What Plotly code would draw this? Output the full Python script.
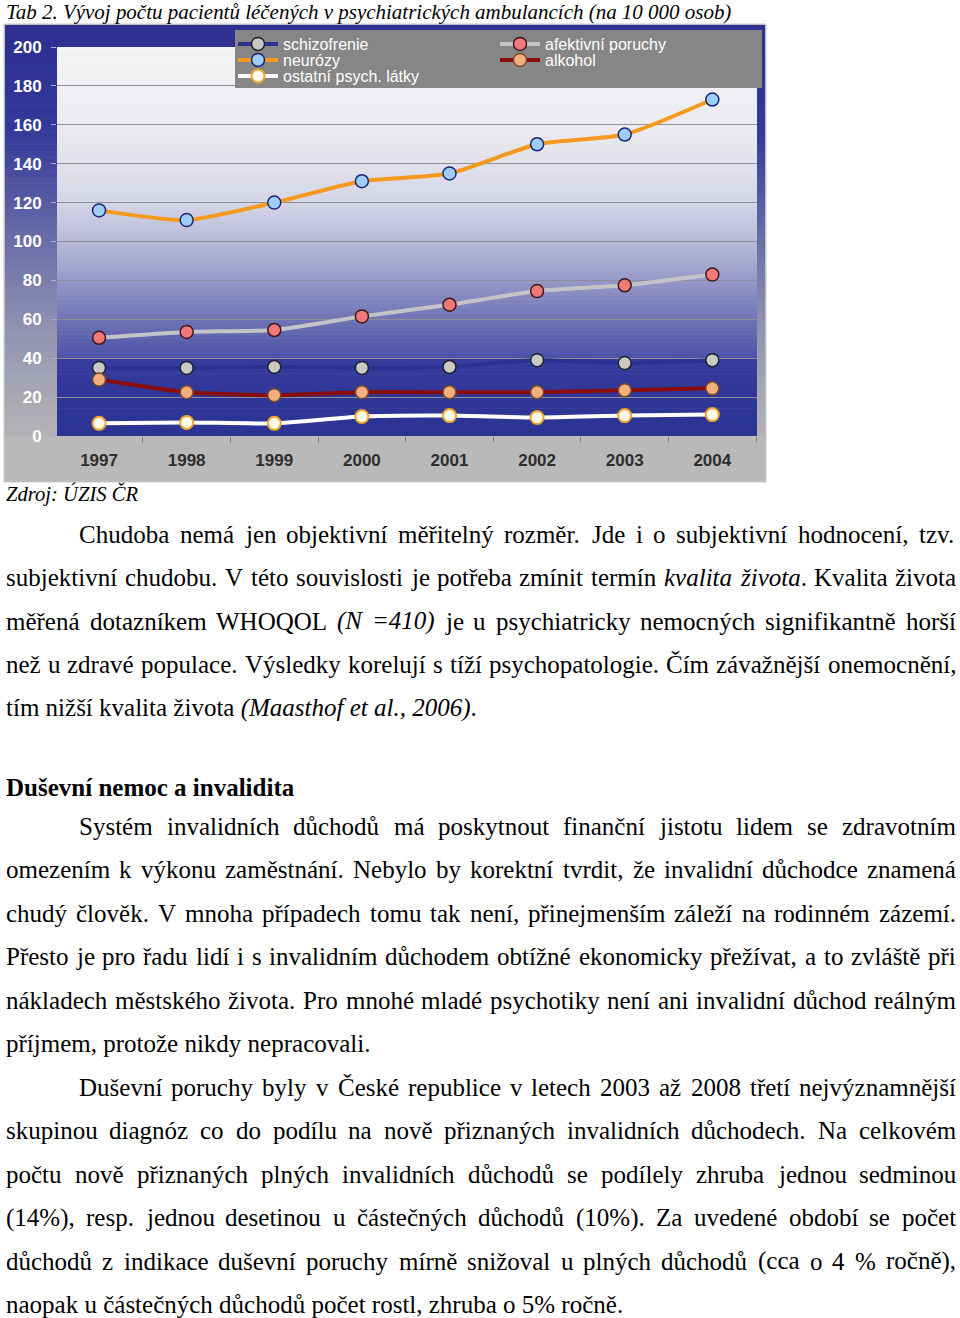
import unicodedata
import plotly.graph_objects as go

# ---------------- data ----------------
years = [1997, 1998, 1999, 2000, 2001, 2002, 2003, 2004]
schizofrenie = [35, 35, 35.5, 35, 35.5, 39, 37.5, 39]
afektivni = [50.5, 53.5, 54.5, 61.5, 67.5, 74.5, 77.5, 83]
neurozy = [116, 111, 120, 131, 135, 150, 155, 173]
alkohol = [29, 22.5, 21, 22.5, 22.5, 22.5, 23.5, 24.5]
ostatni = [6.5, 7, 6.5, 10, 10.5, 9.5, 10.5, 11]
series_names = ["schizofrenie", "afektivní poruchy", "neurózy", "alkohol", "ostatní psych. látky"]
y_ticks = list(range(0, 201, 20))

title_text = "Tab 2. Vývoj počtu pacientů léčených v psychiatrických ambulancích (na 10 000 osob)"
source_text = "Zdroj: ÚZIS ČR"
heading_text = "Duševní nemoc a invalidita"
paragraph1 = [
    "Chudoba nemá jen objektivní měřitelný rozměr. Jde i o subjektivní hodnocení, tzv.",
    "subjektivní chudobu. V této souvislosti je potřeba zmínit termín <i>kvalita života</i>. Kvalita života",
    "měřená dotazníkem WHOQOL <i>(N =410)</i> je u psychiatricky nemocných signifikantně horší",
    "než u zdravé populace. Výsledky korelují s tíží psychopatologie. Čím závažnější onemocnění,",
    "tím nižší kvalita života <i>(Maasthof et al., 2006)</i>.",
]
paragraph2 = [
    "Systém invalidních důchodů má poskytnout finanční jistotu lidem se zdravotním",
    "omezením k výkonu zaměstnání. Nebylo by korektní tvrdit, že invalidní důchodce znamená",
    "chudý člověk. V mnoha případech tomu tak není, přinejmenším záleží na rodinném zázemí.",
    "Přesto je pro řadu lidí i s invalidním důchodem obtížné ekonomicky přežívat, a to zvláště při",
    "nákladech městského života. Pro mnohé mladé psychotiky není ani invalidní důchod reálným",
    "příjmem, protože nikdy nepracovali.",
]
paragraph3 = [
    "Duševní poruchy byly v České republice v letech 2003 až 2008 třetí nejvýznamnější",
    "skupinou diagnóz co do podílu na nově přiznaných invalidních důchodech. Na celkovém",
    "počtu nově přiznaných plných invalidních důchodů se podílely zhruba jednou sedminou",
    "(14%), resp. jednou desetinou u částečných důchodů (10%). Za uvedené období se počet",
    "důchodů z indikace duševní poruchy mírně snižoval u plných důchodů (cca o 4 % ročně),",
    "naopak u částečných důchodů počet rostl, zhruba o 5% ročně.",
]

# ---------------- page geometry helpers ----------------
W, H = 960, 1318
def px(x):
    return x / W
def py(y):
    return 1 - y / H

def hexmix(c1, c2, t):
    a = [int(c1[i:i + 2], 16) for i in (1, 3, 5)]
    b = [int(c2[i:i + 2], 16) for i in (1, 3, 5)]
    return "#%02x%02x%02x" % tuple(round(a[k] + (b[k] - a[k]) * t) for k in range(3))

def grad(stops, v):
    for (v0, c0), (v1, c1) in zip(stops, stops[1:]):
        if v0 <= v <= v1:
            return c0 if v1 == v0 else hexmix(c0, c1, (v - v0) / (v1 - v0))
    return stops[-1][1]

# Times metrics (per 1000 em) used to justify the body text
ROMAN = dict(zip("abcdefghijklmnopqrstuvwxyz",
                 [444, 500, 444, 500, 444, 333, 500, 500, 278, 278, 500, 278, 778, 500, 500, 500, 500, 333, 389, 278, 500, 500, 722, 500, 500, 444]))
ROMAN.update(dict(zip("ABCDEFGHIJKLMNOPQRSTUVWXYZ",
                      [722, 667, 667, 722, 611, 556, 722, 722, 333, 389, 722, 611, 889, 722, 722, 556, 722, 667, 556, 611, 722, 722, 944, 722, 722, 611])))
ROMAN.update({" ": 250, ".": 250, ",": 250, "(": 333, ")": 333, "%": 833, "=": 564, ":": 278, "-": 333})
ROMAN.update({d: 500 for d in "0123456789"})
ITAL = dict(zip("abcdefghijklmnopqrstuvwxyz",
                [500, 500, 444, 500, 444, 278, 500, 500, 278, 278, 444, 278, 722, 500, 500, 500, 500, 389, 389, 278, 500, 444, 667, 444, 444, 389]))
ITAL.update(dict(zip("ABCDEFGHIJKLMNOPQRSTUVWXYZ",
                     [611, 611, 667, 722, 611, 611, 722, 722, 333, 444, 667, 556, 833, 667, 722, 611, 722, 611, 500, 556, 722, 611, 833, 611, 556, 556])))
ITAL.update({" ": 250, ".": 250, ",": 250, "(": 333, ")": 333, "%": 833, "=": 675, ":": 333, "-": 333})
ITAL.update({d: 500 for d in "0123456789"})

def cw(ch, italic):
    base = unicodedata.normalize("NFD", ch)[0]
    tab = ITAL if italic else ROMAN
    return tab.get(base, 500)

def parse_words(line):
    words, ital = [], False
    for raw in line.split(" "):
        segs, buf, i = [], "", 0
        while i < len(raw):
            if raw.startswith("<i>", i):
                if buf:
                    segs.append((buf, ital)); buf = ""
                ital = True; i += 3
            elif raw.startswith("</i>", i):
                if buf:
                    segs.append((buf, ital)); buf = ""
                ital = False; i += 4
            else:
                buf += raw[i]; i += 1
        if buf:
            segs.append((buf, ital))
        words.append(segs)
    return words

def word_width(segs, size):
    return sum(cw(c, it) for t, it in segs for c in t) * size / 1000.0

def word_html(segs):
    return "".join("<i>%s</i>" % t if it else t for t, it in segs)

BODY_FONT = "Liberation Serif, Times New Roman, serif"
BODY_SIZE = 25
annotations = []

def add_line(text, x0, yc, justify, right=955):
    words = parse_words(text)
    if not justify:
        annotations.append(dict(text=text, x=px(x0), y=py(yc), xref="paper", yref="paper",
                                xanchor="left", yanchor="middle", showarrow=False, borderpad=0,
                                font=dict(family=BODY_FONT, size=BODY_SIZE, color="#000")))
        return
    widths = [word_width(w, BODY_SIZE) for w in words]
    gap = (right - x0 - sum(widths)) / (len(words) - 1)
    x = x0
    for w, wd in zip(words, widths):
        annotations.append(dict(text=word_html(w), x=px(x), y=py(yc), xref="paper", yref="paper",
                                xanchor="left", yanchor="middle", showarrow=False, borderpad=0,
                                font=dict(family=BODY_FONT, size=BODY_SIZE, color="#000")))
        x += wd + gap

LINE = 43.5
def add_paragraph(lines, y0):
    for i, ln in enumerate(lines):
        add_line(ln, 78 if i == 0 else 5, y0 + i * LINE, justify=(i < len(lines) - 1))

add_paragraph(paragraph1, 534)
annotations.append(dict(text="<b>%s</b>" % heading_text, x=px(5), y=py(787), xref="paper", yref="paper",
                        xanchor="left", yanchor="middle", showarrow=False, borderpad=0,
                        font=dict(family=BODY_FONT, size=BODY_SIZE, color="#000")))
add_paragraph(paragraph2, 826)
add_paragraph(paragraph3, 1087)

title_units = sum(cw(c, True) for c in title_text)
title_size = 728 / title_units * 1000
annotations.append(dict(text="<i>%s</i>" % title_text, x=px(5), y=py(12), xref="paper", yref="paper",
                        xanchor="left", yanchor="middle", showarrow=False, borderpad=0,
                        font=dict(family=BODY_FONT, size=title_size, color="#000")))
src_units = sum(cw(c, True) for c in source_text)
annotations.append(dict(text="<i>%s</i>" % source_text, x=px(5), y=py(494), xref="paper", yref="paper",
                        xanchor="left", yanchor="middle", showarrow=False, borderpad=0,
                        font=dict(family=BODY_FONT, size=133 / src_units * 1000, color="#000")))

# ---------------- chart frame decorations ----------------
shapes = []
shapes.append(dict(type="rect", xref="paper", yref="paper", x0=px(4), x1=px(766), y0=py(482), y1=py(24),
                   fillcolor="#b9b9b9", line=dict(color="#c8c8c8", width=1), layer="below"))
shapes.append(dict(type="rect", xref="paper", yref="paper", x0=px(5), x1=px(765), y0=py(48), y1=py(25),
                   fillcolor="#2e3192", line=dict(width=0), layer="below"))
gutter_stops = [(47, "#2e3192"), (130, "#33389a"), (240, "#6a6ea8"), (330, "#9193b2"), (400, "#a9a9b4"), (436, "#b3b3b6")]
n = 60
for k in range(n):
    y0 = 47 + (436 - 47) * k / n
    y1 = 47 + (436 - 47) * (k + 1) / n
    col = grad(gutter_stops, (y0 + y1) / 2)
    for xa, xb in ((5, 57), (756, 765)):
        shapes.append(dict(type="rect", xref="paper", yref="paper", x0=px(xa), x1=px(xb), y0=py(y1 + 0.5), y1=py(y0),
                           fillcolor=col, line=dict(width=0), layer="below"))
plot_stops = [(0, "#2b3393"), (20, "#2f3697"), (39.5, "#363d9d"), (40.5, "#4d53a8"), (50, "#5d62ae"),
              (60, "#7074b6"), (70, "#8286be"), (80, "#9699c8"), (90, "#a8aacf"), (100, "#b8bad8"),
              (110, "#c7c8df"), (120, "#d4d5e6"), (140, "#e2e2eb"), (160, "#ebebf0"), (180, "#f0f0f3"), (200, "#f4f4f6")]
m = 100
for k in range(m):
    v0 = 200 * k / m
    v1 = 200 * (k + 1) / m
    shapes.append(dict(type="rect", xref="x domain", yref="y", x0=0, x1=1, y0=v0, y1=v1 + 0.3,
                       fillcolor=grad(plot_stops, (v0 + v1) / 2), line=dict(width=0), layer="below"))
# grey legend panel
shapes.append(dict(type="rect", xref="paper", yref="paper", x0=px(235), x1=px(762), y0=py(88), y1=py(30),
                   fillcolor="#868686", line=dict(width=0), layer="above"))

# ---------------- traces ----------------
fig = go.Figure()
styles = [
    (schizofrenie, dict(color="#2b3190", width=4), dict(color="#c9cac4", line=dict(color="#1e1e2e", width=1.5))),
    (afektivni, dict(color="#c4c4c8", width=4), dict(color="#f07878", line=dict(color="#3a1a1a", width=1.5))),
    (neurozy, dict(color="#f59a1e", width=4), dict(color="#9fcdfb", line=dict(color="#1a2470", width=1.5))),
    (alkohol, dict(color="#8a0c0c", width=4), dict(color="#f3b07e", line=dict(color="#7a4a2a", width=1.5))),
    (ostatni, dict(color="#ffffff", width=4), dict(color="#fffbea", line=dict(color="#f0a52a", width=2))),
]
legend_ids = ["legend", "legend2", "legend3", "legend4", "legend5"]
for name, (vals, ln, mk), lg in zip(series_names, styles, legend_ids):
    fig.add_trace(go.Scatter(x=years, y=vals, name=name, mode="lines+markers", legend=lg,
                             line=dict(shape="spline", smoothing=0.6, **ln),
                             marker=dict(symbol="circle", size=13, **mk)))

# legend grid: two columns, three rows (one entry per legend box)
LEG_FONT = dict(family="Liberation Sans, Arial", size=16, color="#ffffff")
legend_cells = [(233, 44), (495, 44), (233, 60), (495, 60), (233, 76)]
legend_layout = {}
for lg, (lx, ly) in zip(legend_ids, legend_cells):
    legend_layout[lg] = dict(orientation="v", x=px(lx), y=py(ly), xanchor="left", yanchor="middle",
                             bgcolor="rgba(0,0,0,0)", borderwidth=0, font=LEG_FONT, itemwidth=40,
                             tracegroupgap=0)

fig.update_layout(
    template="none",
    width=W, height=H, margin=dict(l=0, r=0, t=0, b=0, autoexpand=False),
    paper_bgcolor="#ffffff", plot_bgcolor="rgba(0,0,0,0)",
    showlegend=True,
    xaxis=dict(domain=[px(57), px(757)], range=[1996.52, 2004.51], tickmode="array", automargin=False,
               tickvals=years, ticktext=[str(y) for y in years], ticks="", showgrid=False, zeroline=False,
               showline=False, ticklabelstandoff=12,
               tickfont=dict(family="Liberation Sans, Arial", size=17, color="#2e2e2e", weight="bold"),
               minor=dict(tick0=1996.5, dtick=1, ticks="outside", ticklen=5, tickcolor="#7a7a7a", showgrid=False)),
    yaxis=dict(domain=[py(436), py(47)], range=[0, 200], tickmode="array", tickvals=y_ticks, automargin=False,
               ticks="outside", ticklen=5, tickcolor="#a9acd6", showgrid=True, gridcolor="#8e8e96",
               gridwidth=1, zeroline=False, showline=False, ticklabelstandoff=6,
               tickfont=dict(family="Liberation Sans, Arial", size=17, color="#ffffff", weight="bold")),
    shapes=shapes, annotations=annotations,
    **legend_layout,
)

fig.write_html("out.html", config={"displayModeBar": False}, post_script=(
    "document.documentElement.style.margin='0';document.body.style.margin='0';document.body.style.padding='0';"
    "document.body.style.overflow='hidden';document.documentElement.style.overflow='hidden';"
    "var gd=document.getElementById('{plot_id}');gd.style.position='fixed';gd.style.left='0px';gd.style.top='0px';"))
